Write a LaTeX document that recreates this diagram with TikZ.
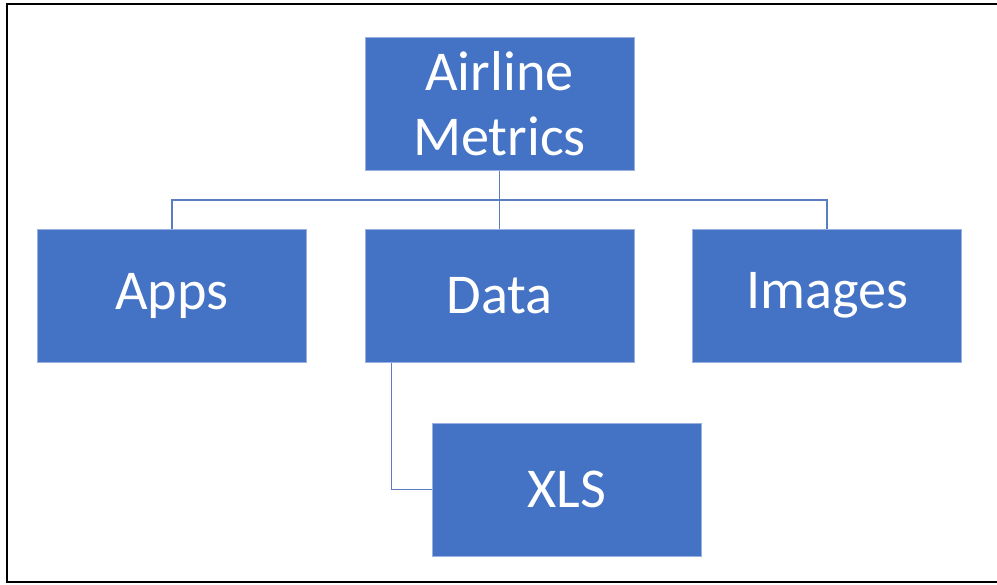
\documentclass[tikz,border=0pt]{standalone}
\usepackage{fontspec}
\setmainfont{Carlito}
\usetikzlibrary{positioning, calc}
\definecolor{officeblue}{HTML}{4472C4}
\definecolor{linkblue}{HTML}{5A7DBF}

\begin{document}
\begin{tikzpicture}[
  unit/.style={rectangle, draw=officeblue!55!white, line width=0.4pt, fill=officeblue, text=white, minimum width=5.38cm, minimum height=2.66cm, align=center, font=\fontsize{32}{37}\selectfont},
  link/.style={draw=linkblue, line width=0.85pt},
  frame/.style={draw=black, line width=1.6pt}
]
  \useasboundingbox (-9.99,2.08) rectangle (9.95,-9.6);
  \draw[frame] (10.2,2.0) -- (-9.85,2.0) -- (-9.85,-9.56) -- (10.2,-9.56);

  \node[unit] (airline) {Airline\\Metrics};
  \node[unit, below=1.16cm of airline] (data) {Data};
  \node[unit, left=1.16cm of data] (apps) {Apps};
  \node[unit, right=1.16cm of data] (images) {Images};
  \node[unit, below=1.2cm of data, xshift=1.35cm] (xls) {XLS};

  \coordinate (bus) at ($(airline.south)!0.5!(data.north)$);
  \coordinate (datafoot) at ($(data.south west)+(0.54,0)$);

  \draw[link] (airline.south) -- (data.north);
  \draw[link] (apps.north) |- (bus) -| (images.north);
  \draw[link] (datafoot) |- (xls.west);
\end{tikzpicture}
\end{document}
